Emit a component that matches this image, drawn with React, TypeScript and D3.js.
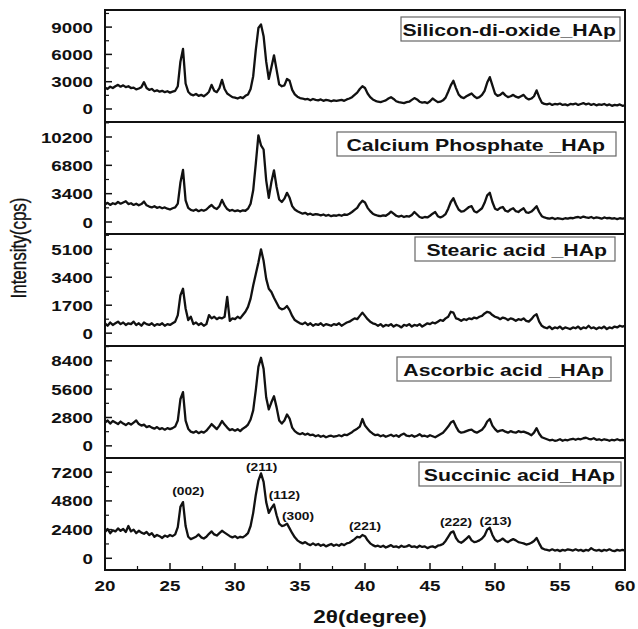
import React from "react";
import * as d3 from "d3";

// 2θ grid the patterns were read on (20° .. 60°, 0.2° step)
const twoTheta = d3.range(0, 201).map((i) => +(20 + i * 0.2).toFixed(1));

const silicaHAp = [
  2350, 2200, 2450, 2300, 2500, 2650, 2450, 2600, 2400, 2500,
  2300, 2350, 2150, 2250, 2400, 2950, 2300, 2100, 2200, 1950,
  2050, 1900, 2000, 1850, 1950, 1800, 1900, 2000, 2500, 5200,
  6600, 2800, 1900, 1600, 1500, 1650, 1450, 1550, 1400, 1600,
  1900, 2650, 2000, 1850, 2300, 3200, 2200, 1700, 1500, 1300,
  1250, 1150, 1300, 1200, 1450, 1600, 2200, 3600, 6500, 8900,
  9300, 8000, 5200, 3300, 4600, 5900, 4300, 2700, 2500, 2600,
  3300, 3100, 2100, 1600, 1350, 1200, 1150, 1050, 1100, 950,
  1100, 1000, 950, 1050, 900, 1000, 950, 850, 950, 900,
  950, 1000, 900, 1050, 1150, 1300, 1550, 1800, 2200, 2500,
  2300, 1700, 1300, 1050, 900, 800, 750, 850, 950, 1150,
  1300, 1100, 850, 750, 700, 650, 750, 800, 1000, 1200,
  1050, 800, 700, 750, 650, 850, 1150, 950, 750, 800,
  950, 1250, 1900, 2600, 3100, 2300, 1600, 1300, 1200, 1400,
  1550, 1700, 1400, 1200, 1300, 1550, 2000, 2900, 3500, 2600,
  1700, 1450, 1550, 1800, 1500, 1300, 1400, 1550, 1350, 1250,
  1400, 1550, 1200, 1050, 1150, 1400, 2050, 1300, 700, 550,
  500, 600, 450, 550, 500, 600, 450, 500, 400, 550,
  500, 600, 450, 550, 650, 500, 600, 450, 550, 400,
  500, 450, 550, 400, 500, 350, 450, 400, 500, 350,
  400,
];

const calciumHAp = [
  2100, 2300, 2050, 2250, 2150, 2400, 2200, 2350, 2500, 2150,
  2250, 2050, 2200, 2000, 2150, 2450, 2000, 1850, 1750, 1900,
  1700, 1800, 1650, 1750, 1600, 1500, 1650, 1750, 2200, 4700,
  6250, 2600, 1700, 1450, 1350, 1500, 1300, 1450, 1350, 1500,
  1800, 2050, 1700, 1550, 1900, 2650, 2000, 1550, 1350, 1450,
  1300, 1400, 1250, 1400, 1350, 1600, 2200, 3800, 7000, 10400,
  9200, 8700, 5000, 2900, 4800, 6200, 4200, 2700, 2400, 2800,
  3500, 2900, 1900, 1500, 1300, 1150, 1000, 1100, 900, 1000,
  850, 950, 900, 800, 900, 750, 850, 700, 800, 750,
  850, 750, 900, 850, 1000, 1200, 1450, 1700, 2200, 2550,
  2350, 1700, 1300, 1000, 850, 750, 700, 800, 750, 950,
  1250, 1000, 750, 650, 750, 600, 700, 650, 850, 1200,
  900, 600, 500, 600, 550, 750, 1000, 1200, 700, 550,
  700, 950, 1600, 2400, 2850, 2100, 1500, 1250, 1300, 1550,
  1800, 1900, 1300, 1150, 1400, 1650, 2300, 3200, 3500, 2400,
  1600, 1450, 1700, 1800, 1350, 1250, 1500, 1650, 1300, 1200,
  1450, 1650, 1150, 1100, 1250, 1550, 1900, 1200, 700, 550,
  450, 400, 500, 350, 450, 400, 350, 450, 400, 500,
  450, 550, 600, 500, 650, 550, 500, 600, 450, 550,
  500, 400, 550, 450, 500, 400, 450, 350, 450, 400,
  450,
];

const stearicHAp = [
  600, 450, 650, 500, 600, 700, 550, 650, 500, 600,
  550, 700, 500, 600, 450, 650, 550, 500, 600, 450,
  550, 500, 600, 450, 550, 500, 600, 700, 1100, 2300,
  2700, 1500, 800, 1000, 550, 650, 500, 600, 450, 550,
  1100, 900, 1000, 850, 950, 900, 1000, 2200, 750, 900,
  850, 1000, 900, 1100, 1300, 1600, 2100, 2900, 3600, 4300,
  5100, 4400, 3300, 2700, 2500, 2150, 1850, 1550, 1450, 1500,
  1650, 1400, 1050, 800, 700, 600, 550, 650, 500, 600,
  450, 550, 500, 600, 450, 550, 500, 450, 550, 500,
  600, 450, 550, 650, 700, 800, 900, 850, 1050, 1250,
  1050, 850, 700, 600, 550, 450, 550, 400, 500, 450,
  550, 400, 500, 450, 350, 500, 450, 550, 400, 500,
  450, 550, 400, 500, 600, 550, 650, 600, 700, 800,
  750, 900, 1000, 1300, 1250, 900, 850, 750, 850, 800,
  900, 850, 950, 900, 1000, 1050, 1200, 1300, 1250, 1100,
  1000, 950, 850, 950, 900, 800, 900, 850, 750, 850,
  800, 900, 750, 700, 850, 1050, 1150, 700, 450, 350,
  300, 400, 250, 350, 300, 400, 250, 350, 300, 250,
  350, 300, 400, 250, 350, 300, 450, 300, 350, 250,
  350, 300, 400, 250, 350, 300, 400, 350, 450, 400,
  450,
];

const ascorbicHAp = [
  2300, 2500, 2200, 2450, 2300, 2150, 2400, 2200, 2050, 2250,
  2100, 2300, 2500, 2150, 2000, 2100, 1850, 1950, 1800, 1700,
  1850, 1650, 1750, 1600, 1750, 1650, 1750, 1900, 2500, 4600,
  5300, 2500, 1700, 1400, 1300, 1450, 1250, 1400, 1300, 1500,
  1800, 2150, 1900, 1650, 2000, 2450, 2100, 1800, 1550, 1650,
  1500, 1650, 1450, 1700, 1850, 2100, 2600, 3500, 5500, 7800,
  8700, 7600, 4800, 3600, 4300, 4900, 3800, 2500, 2200, 2500,
  3100, 2700, 1800, 1450, 1250, 1150, 1250, 1100, 1200, 1050,
  1100, 950, 1050, 900, 1000, 850, 950, 1000, 900, 950,
  1050, 950, 1100, 1050, 1200, 1350, 1550, 1700, 1900, 2650,
  2000, 1700, 1400, 1200, 1050, 1100, 950, 1050, 900, 1000,
  1100, 950, 1050, 900, 1100, 1200, 1000, 950, 1050, 900,
  1000, 1150, 950, 1000, 900, 1050, 950, 850, 1000, 1150,
  1300, 1600, 1900, 2300, 2450, 1900, 1450, 1300, 1350, 1450,
  1550, 1600, 1400, 1300, 1450, 1600, 1900, 2400, 2650, 2000,
  1650, 1400, 1500, 1550, 1400, 1300, 1450, 1350, 1300, 1450,
  1350, 1400, 1300, 1200, 1050, 1300, 1750, 1200, 850, 750,
  650, 550, 600, 500, 550, 650, 500, 600, 550, 650,
  700, 600, 700, 650, 750, 800, 700, 650, 750, 600,
  650, 550, 650, 600, 500, 600, 550, 650, 550, 600,
  550,
];

const succinicHAp = [
  2200, 2450, 2100, 2350, 2250, 2500, 2300, 2450, 2200, 2700,
  2250, 2400, 2100, 2300, 2150, 2050, 2200, 1950, 2100, 1800,
  1950, 1850, 1700, 1900, 1800, 1950, 1850, 2000, 2600, 4300,
  4700, 2700, 1800, 1600, 1700, 1800, 2000, 1750, 1650, 1800,
  2050, 2250, 2000, 1900, 2100, 2300, 2150, 2000, 1850, 1750,
  1850, 1700, 1800, 1750, 1900, 2100, 2700, 3800, 5300, 6500,
  7100, 6400, 4700, 3800, 4200, 4500, 3600, 2900, 2700, 2750,
  2900, 2500, 2100, 1750, 1500, 1350, 1250, 1350, 1200, 1100,
  1250, 1100, 1200, 1050, 1150, 1000, 1100, 1200, 1050, 1150,
  1050, 1200, 1100, 1250, 1300, 1450, 1600, 1800, 1750, 1950,
  1850, 1500, 1250, 1100, 1000, 1050, 950, 1050, 900, 1000,
  1100, 950, 1000, 900, 1050, 950, 1000, 1100, 950, 1000,
  900, 1050, 950, 1000, 850, 950, 1000, 900, 1050, 1100,
  1200, 1450, 1800, 2150, 2250, 1700, 1400, 1300, 1450, 1650,
  1850, 1500, 1350, 1400, 1500, 1650, 1900, 2400, 2550, 1950,
  1550, 1400, 1500, 1650, 1450, 1350, 1500, 1600, 1500, 1350,
  1300, 1250, 1150, 1200, 1300, 1450, 1700, 1250, 850, 750,
  700, 650, 750, 650, 700, 600, 700, 650, 750, 700,
  650, 750, 650, 700, 600, 700, 650, 850, 700, 650,
  700, 600, 700, 650, 750, 650, 600, 700, 650, 700,
  650,
];

const sampleNames = [
  "Silicon-di-oxide_HAp",
  "Calcium Phosphate _HAp",
  "Stearic acid _HAp",
  "Ascorbic acid _HAp",
  "Succinic acid_HAp",
];
const seriesList = [silicaHAp, calciumHAp, stearicHAp, ascorbicHAp, succinicHAp];

// y tick labels of each panel
const yTickValues = [
  [0, 3000, 6000, 9000],
  [0, 3400, 6800, 10200],
  [0, 1700, 3400, 5100],
  [0, 2800, 5600, 8400],
  [0, 2400, 4800, 7200],
];
// visible intensity range of each panel
const yDomains = [
  [-1430, 10880],
  [-1440, 12000],
  [-780, 6030],
  [-1200, 9860],
  [-980, 8390],
];

const xTickValues = [20, 25, 30, 35, 40, 45, 50, 55, 60];

// Miller indices marked on the bottom pattern
const peakLabels = ["(002)", "(211)", "(112)", "(300)", "(221)", "(222)", "(213)"];
const peakLabelTheta = [26.4, 32.05, 33.8, 34.85, 40.0, 47.0, 50.05];
const peakLabelLevel = [5650, 7660, 5290, 3560, 2730, 3060, 3140];

// layout
const W = 638;
const H = 629;
const left = 105;
const right = 625;
const top = 10;
const panelH = 112;
const legendLeft = [401, 337, 415, 397, 419];
const legendRight = [620, 616, 615, 611, 621];
const legendTextRight = [616, 605, 607, 604, 615];
const legendTop = [7, 10, 3, 11, 4];
const FONT = "'Liberation Sans', Arial, sans-serif";
const SX = 1.25; // the figure's lettering is stretched horizontally

const Txt = ({ x, y, anchor = "start", size, weight = "bold", children }: any) => (
  <text
    transform={`translate(${x},${y}) scale(${SX},1)`}
    textAnchor={anchor}
    fontSize={size}
    fontWeight={weight}
    fontFamily={FONT}
    fill="#111"
  >
    {children}
  </text>
);

export default function App() {
  const x = d3.scaleLinear().domain([20, 60]).range([left, right]);
  const bottom = top + panelH * sampleNames.length;
  const xMinor = d3.range(22.5, 60, 5);

  return (
    <svg width={W} height={H} style={{ position: "absolute", left: 0, top: 0, background: "#fff" }}>
      {sampleNames.map((name, p) => {
        const y0 = top + p * panelH;
        const y = d3.scaleLinear().domain(yDomains[p]).range([y0 + panelH, y0]);
        const step = yTickValues[p][1] / 2;
        const minor = d3.range(step, yDomains[p][1], yTickValues[p][1]);
        const line = d3
          .line<number>()
          .x((_, i) => x(twoTheta[i]))
          .y((d) => y(d));
        const boxY = y0 + legendTop[p];
        return (
          <g key={name}>
            <path d={line(seriesList[p]) || ""} fill="none" stroke="#111" strokeWidth={2.3} strokeLinejoin="round" />
            {yTickValues[p].map((v) => (
              <g key={v}>
                <line x1={left} x2={left + 7} y1={y(v)} y2={y(v)} stroke="#111" strokeWidth={1.5} />
                <Txt x={93} y={y(v) + 5.5} anchor="end" size={15}>
                  {v}
                </Txt>
              </g>
            ))}
            {minor.map((v) => (
              <line key={v} x1={left} x2={left + 4} y1={y(v)} y2={y(v)} stroke="#111" strokeWidth={1.2} />
            ))}
            <rect
              x={legendLeft[p]}
              y={boxY}
              width={legendRight[p] - legendLeft[p]}
              height={24}
              fill="#fff"
              stroke="#666"
              strokeWidth={1.2}
            />
            <Txt x={legendTextRight[p]} y={boxY + 19} anchor="end" size={17}>
              {name}
            </Txt>
            {p > 0 && <line x1={left} x2={right} y1={y0} y2={y0} stroke="#111" strokeWidth={2} />}
          </g>
        );
      })}

      {/* peak assignments on the bottom pattern */}
      {(() => {
        const p = sampleNames.length - 1;
        const y0 = top + p * panelH;
        const y = d3.scaleLinear().domain(yDomains[p]).range([y0 + panelH, y0]);
        return peakLabels.map((lab, i) => (
          <Txt key={lab} x={x(peakLabelTheta[i])} y={y(peakLabelLevel[i]) + 4} anchor="middle" size={11}>
            {lab}
          </Txt>
        ));
      })()}

      <rect x={left} y={top} width={right - left} height={bottom - top} fill="none" stroke="#111" strokeWidth={2} />

      {/* x axis */}
      {xTickValues.map((v) => (
        <g key={v}>
          <line x1={x(v)} x2={x(v)} y1={bottom} y2={bottom - 7} stroke="#111" strokeWidth={1.5} />
          <Txt x={x(v)} y={bottom + 21} anchor="middle" size={15}>
            {v}
          </Txt>
        </g>
      ))}
      {xMinor.map((v) => (
        <line key={v} x1={x(v)} x2={x(v)} y1={bottom} y2={bottom - 4} stroke="#111" strokeWidth={1.2} />
      ))}

      <Txt x={(left + right) / 2 + 5} y={623} anchor="middle" size={18}>
        2θ(degree)
      </Txt>
      <text
        transform={`translate(26,248) scale(${SX},1) rotate(-90)`}
        textAnchor="middle"
        fontSize={17}
        fontFamily={FONT}
        fill="#111"
        stroke="#111"
        strokeWidth={0.3}
      >
        Intensity(cps)
      </text>
    </svg>
  );
}
